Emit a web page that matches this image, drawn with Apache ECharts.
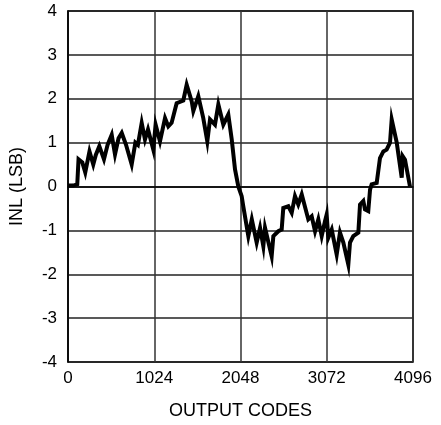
<!DOCTYPE html>
<html>
<head>
<meta charset="utf-8">
<script src="https://cdn.jsdelivr.net/npm/echarts@6/dist/echarts.min.js"></script>
<style>
  html, body { margin: 0; padding: 0; background: #fff; }
  #chart { width: 441px; height: 425px; }
</style>
</head>
<body>
<div id="chart"></div>
<script>
// DAC integral nonlinearity versus output code
const codes = [
  0, 60, 110, 125, 170, 205, 255, 300, 330, 372, 427, 470, 519, 558, 600, 638,
  689, 756, 800, 830, 875, 914, 950, 1013, 1040, 1092, 1152, 1191, 1230, 1270,
  1290, 1369, 1409, 1469, 1488, 1547, 1606, 1654, 1686, 1745, 1785, 1844, 1903,
  1944, 1983, 2022, 2042, 2062, 2081, 2141, 2182, 2240, 2280, 2319, 2339, 2418,
  2438, 2497, 2537, 2556, 2616, 2656, 2695, 2734, 2775, 2853, 2893, 2933, 2972,
  3012, 3051, 3071, 3090, 3131, 3190, 3229, 3269, 3328, 3348, 3387, 3447, 3467,
  3506, 3526, 3565, 3586, 3605, 3665, 3704, 3744, 3783, 3823, 3843, 3903, 3962,
  3974, 4001, 4060
];
const inl = [
  0.02, 0.02, 0.05, 0.62, 0.55, 0.32, 0.80, 0.50, 0.72, 0.92, 0.62, 0.95, 1.18, 0.73, 1.10, 1.22,
  0.95, 0.50, 1.00, 0.95, 1.45, 1.07, 1.30, 0.84, 1.41, 1.03, 1.56, 1.37, 1.45, 1.75,
  1.90, 1.96, 2.32, 1.94, 1.72, 2.06, 1.56, 1.03, 1.53, 1.41, 1.87, 1.41, 1.64,
  1.07, 0.39, 0.00, -0.11, -0.22, -0.45, -1.13, -0.75, -1.28, -0.94, -1.36, -0.94, -1.59,
  -1.13, -1.02, -0.98, -0.49, -0.45, -0.60, -0.22, -0.41, -0.18, -0.75, -0.68, -1.02, -0.75,
  -1.13, -0.79, -0.64, -1.17, -0.98, -1.55, -1.05, -1.28, -1.78, -1.28, -1.13, -1.05, -0.41,
  -0.33, -0.52, -0.56, -0.07, 0.05, 0.08, 0.65, 0.80, 0.84, 1.00, 1.53, 1.00, 0.20,
  0.69, 0.61, 0.00
];
const xTicks = [0, 1024, 2048, 3072, 4096];
const yMin = -4, yMax = 4, yStep = 1;

const points = codes.map((c, i) => [c, inl[i]]);
const font = 'Liberation Sans, Arial, sans-serif';

const chart = echarts.init(document.getElementById('chart'), null, { renderer: 'canvas' });
chart.setOption({
  animation: false,
  backgroundColor: '#fff',
  grid: {
    left: 68, right: 28, top: 11, bottom: 62,
    show: true, borderColor: '#000', borderWidth: 1.5, backgroundColor: 'transparent'
  },
  xAxis: {
    type: 'value',
    min: xTicks[0], max: xTicks[xTicks.length - 1], interval: 1024,
    name: 'OUTPUT CODES', nameLocation: 'middle', nameGap: 40,
    nameTextStyle: { color: '#000', fontSize: 18, fontFamily: font },
    axisLine: { show: true, lineStyle: { color: '#000', width: 1.5 } },
    axisTick: { show: false },
    axisLabel: { color: '#000', fontSize: 17, fontFamily: font, margin: 8, formatter: v => String(v) },
    splitLine: { show: true, lineStyle: { color: '#333', width: 1.5 } }
  },
  yAxis: {
    type: 'value',
    min: yMin, max: yMax, interval: yStep,
    name: 'INL (LSB)', nameLocation: 'middle', nameGap: 42,
    nameTextStyle: { color: '#000', fontSize: 18, fontFamily: font },
    axisLine: { show: true, lineStyle: { color: '#000', width: 1.5 } },
    axisTick: { show: false },
    axisLabel: { color: '#000', fontSize: 17, fontFamily: font, margin: 11 },
    splitLine: { show: true, lineStyle: { color: '#222', width: 1.5 } }
  },
  series: [{
    type: 'line',
    data: points,
    showSymbol: false,
    lineStyle: { color: '#000', width: 4, join: 'miter' },
    z: 5
  }]
});
</script>
</body>
</html>
